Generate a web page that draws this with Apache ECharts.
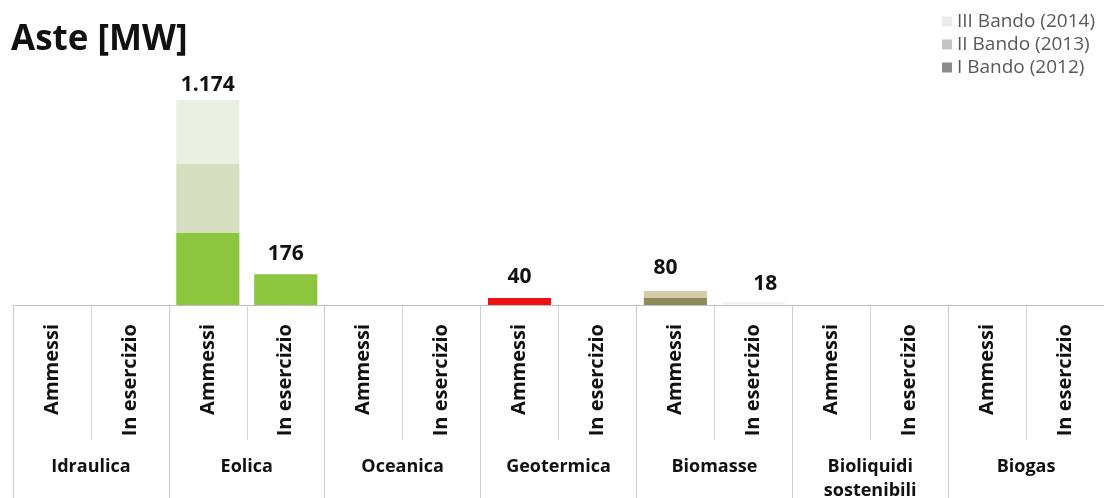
<!DOCTYPE html>
<html>
<head>
<meta charset="utf-8">
<script src="https://cdn.jsdelivr.net/npm/echarts@6/dist/echarts.min.js"></script>
<style>
  html, body { margin: 0; padding: 0; background: #fff; }
  #chart { width: 1104px; height: 498px; }
</style>
</head>
<body>
<div id="chart"></div>
<script>
// categorie (due per ogni fonte)
const sottoCategorie = [
  'Ammessi', 'In esercizio', 'Ammessi', 'In esercizio', 'Ammessi', 'In esercizio',
  'Ammessi', 'In esercizio', 'Ammessi', 'In esercizio', 'Ammessi', 'In esercizio',
  'Ammessi', 'In esercizio'
]
const fonti = ['Idraulica', 'Eolica', 'Oceanica', 'Geotermica', 'Biomasse', 'Bioliquidi\nsostenibili', 'Biogas']

// MW per bando
const bandoI = [0, 0, 412, 176, 0, 0, 40, 0, 40, 18, 0, 0, 0, 0]
const bandoII = [0, 0, 397, 0, 0, 0, 0, 0, 40, 0, 0, 0, 0, 0]
const bandoIII = [0, 0, 365, 0, 0, 0, 0, 0, 0, 0, 0, 0, 0, 0]
const totali = [null, null, 1174, 176, null, null, 40, null, 80, 18, null, null, null, null]

const nomiSerie = ['I Bando (2012)', 'II Bando (2013)', 'III Bando (2014)']

// colori (legenda in grigio, barre colorate per fonte)
const coloriLegenda = ['#8c8c8c', '#c4c4c4', '#ebebeb']
const coloriBarre = {
  2: ['#8cc63f', '#d6e0c0', '#ebefe1'],
  3: ['#8cc63f', '#d6e0c0', '#ebefe1'],
  6: ['#ee1111', '#ee1111', '#ee1111'],
  8: ['#8d8a5c', '#d3cca8', '#e8e4d2'],
  9: ['#f6f4ee', '#f6f4ee', '#f6f4ee']
}
// piccoli spostamenti delle etichette dei totali
const spostamenti = { 2: [0, 6], 8: [-10, -3], 9: [12, 3] }

const fmt = v => String(v).replace(/\B(?=(\d{3})+(?!\d))/g, '.')

const myChart = echarts.init(document.getElementById('chart'))

const serieBando = [bandoI, bandoII, bandoIII].map((valori, k) => ({
  name: nomiSerie[k],
  type: 'bar',
  stack: 'tot',
  barCategoryGap: '19%',
  xAxisIndex: 0,
  itemStyle: { color: coloriLegenda[k] },
  data: valori.map((v, i) => ({
    value: v,
    itemStyle: { color: coloriBarre[i] ? coloriBarre[i][k] : coloriLegenda[k] }
  }))
}))

const option = {
  animation: false,
  title: {
    text: 'Aste [MW]',
    left: 6,
    top: 18,
    textStyle: { fontFamily: 'Open Sans', fontWeight: 'bold', fontSize: 35, color: '#111' }
  },
  legend: {
    orient: 'vertical',
    right: 4,
    top: 7,
    itemWidth: 10,
    itemHeight: 10,
    itemGap: 4,
    icon: 'rect',
    data: ['III Bando (2014)', 'II Bando (2013)', 'I Bando (2012)'],
    textStyle: { fontFamily: 'Open Sans', fontSize: 19, color: '#595959' }
  },
  grid: { left: 13, right: 0, top: 100, bottom: 193, containLabel: false, outerBoundsMode: 'none' },
  xAxis: [
    {
      type: 'category',
      data: sottoCategorie,
      axisLine: { lineStyle: { color: '#bfbfbf', width: 1 } },
      axisTick: { show: true, interval: 0, length: 135, lineStyle: { color: '#d4d4d4' } },
      axisLabel: {
        interval: 0,
        rotate: 90,
        margin: 19,
        fontFamily: 'Open Sans',
        fontWeight: 'bold',
        fontSize: 20,
        color: '#111'
      }
    },
    {
      type: 'category',
      position: 'bottom',
      data: fonti,
      axisLine: { show: false },
      axisTick: { show: true, interval: 0, length: 200, lineStyle: { color: '#cccccc' } },
      axisLabel: {
        interval: 0,
        margin: 150,
        fontFamily: 'Open Sans',
        fontWeight: 'bold',
        fontSize: 18,
        lineHeight: 24,
        color: '#111'
      }
    }
  ],
  yAxis: { type: 'value', min: 0, max: 1174, show: false, splitLine: { show: false } },
  series: [
    ...serieBando,
    {
      name: 'totale',
      type: 'scatter',
      xAxisIndex: 0,
      symbolSize: 0,
      itemStyle: { opacity: 1 },
      data: totali.map((v, i) => ({
        value: v,
        label: { offset: spostamenti[i] || [0, 0] }
      })),
      label: {
        show: true,
        position: 'top',
        distance: 10,
        formatter: p => fmt(p.value),
        fontFamily: 'Open Sans',
        fontWeight: 'bold',
        fontSize: 21,
        color: '#111'
      }
    }
  ]
}

option && myChart.setOption(option)
</script>
</body>
</html>
